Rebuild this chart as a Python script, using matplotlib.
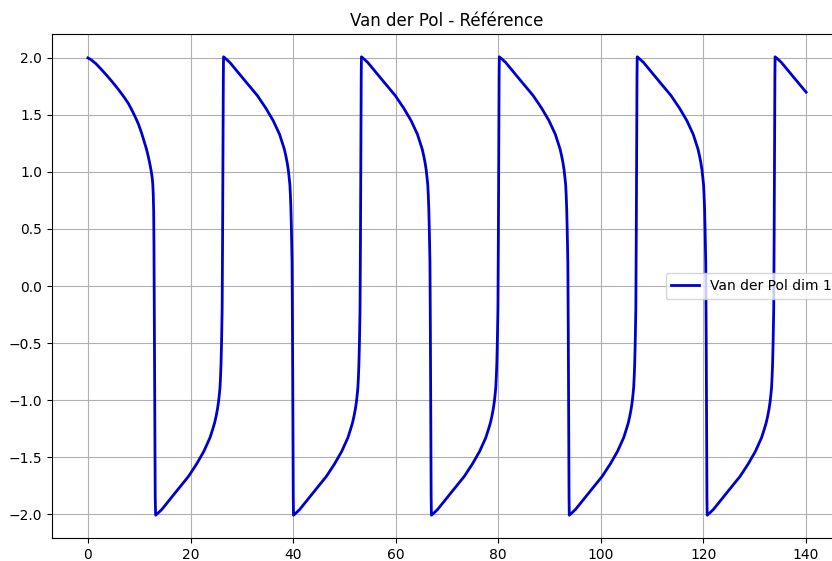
import matplotlib
matplotlib.use("Agg")
import matplotlib.pyplot as plt

# first descent, starting at x = 2
first_t = [0.00, 0.60, 1.55, 2.61, 3.61, 4.57, 5.48, 6.34, 7.15, 7.90, 8.60, 9.20, 9.85, 10.44,
           10.95, 11.42, 11.80, 12.08, 12.33, 12.53, 12.65, 12.74, 12.82, 12.88, 12.95, 13.03, 13.12]
first_x = [2.00, 1.985, 1.95, 1.90, 1.85, 1.80, 1.75, 1.70, 1.65, 1.60, 1.54, 1.485, 1.42, 1.345,
           1.27, 1.20, 1.13, 1.07, 1.01, 0.95, 0.89, 0.80, 0.65, 0.34, -0.30, -1.20, -1.85]

# shape of one rising half-cycle, time measured from the bottom corner
rise_tau = [0.00, 0.50, 1.20, 2.00, 2.80, 3.70, 4.60, 5.50, 6.40, 7.20, 8.00, 8.70, 9.40, 10.00, 10.60,
            11.10, 11.50, 11.80, 12.05, 12.25, 12.40, 12.55, 12.65, 12.75, 12.85, 12.97, 13.05, 13.14, 13.20, 13.24]
rise_x = [-2.01, -1.99, -1.96, -1.915, -1.87, -1.82, -1.77, -1.72, -1.67, -1.615, -1.56, -1.505, -1.45, -1.39, -1.33,
          -1.26, -1.20, -1.14, -1.08, -1.02, -0.96, -0.89, -0.80, -0.68, -0.50, -0.20, 0.40, 1.30, 1.85, 2.01]

# shape of one falling half-cycle, time measured from the top corner
fall_tau = [0.00, 0.52, 1.24, 2.06, 2.88, 3.81, 4.74, 5.67, 6.59, 7.42, 8.24, 8.96, 9.68, 10.30, 10.92,
            11.43, 11.85, 12.15, 12.41, 12.62, 12.77, 12.93, 13.03, 13.13, 13.23, 13.36, 13.44, 13.53, 13.59, 13.64]
fall_x = [2.01, 1.99, 1.96, 1.915, 1.87, 1.82, 1.77, 1.72, 1.67, 1.615, 1.56, 1.505, 1.45, 1.39, 1.33,
          1.26, 1.20, 1.14, 1.08, 1.02, 0.96, 0.89, 0.80, 0.68, 0.50, 0.20, -0.40, -1.30, -1.85, -2.01]

# corner times
bottom_times = [13.20, 40.08, 66.96, 93.84, 120.72]
top_times = [26.44, 53.32, 80.20, 107.08, 133.96]
end_t, end_x = 140.0, 1.70

t_values = list(first_t)
x_values = list(first_x)
for k in range(len(bottom_times)):
    t_values += [bottom_times[k] + d for d in rise_tau[:-1]]
    x_values += rise_x[:-1]
    top = top_times[k]
    for d, v in zip(fall_tau[:-1], fall_x[:-1]):
        if top + d < end_t:
            t_values.append(top + d)
            x_values.append(v)
t_values.append(end_t)
x_values.append(end_x)

fig = plt.figure(figsize=(8.32, 5.61), dpi=100)
# the reference is cropped on the right, so the axes runs past the edge
ax = fig.add_axes([52 / 832, 23 / 561, 790 / 832, 504 / 561])

ax.plot(t_values, x_values, color="mediumblue", linewidth=2, label="Van der Pol dim 1")
ax.set_xlim(-7, 147)
ax.set_ylim(-2.21, 2.21)
ax.set_title("Van der Pol - Référence", fontsize=12)
ax.grid(True)
ax.legend(loc="center left", bbox_to_anchor=(0.768, 0.5))

fig.savefig("out.png", dpi=100)
